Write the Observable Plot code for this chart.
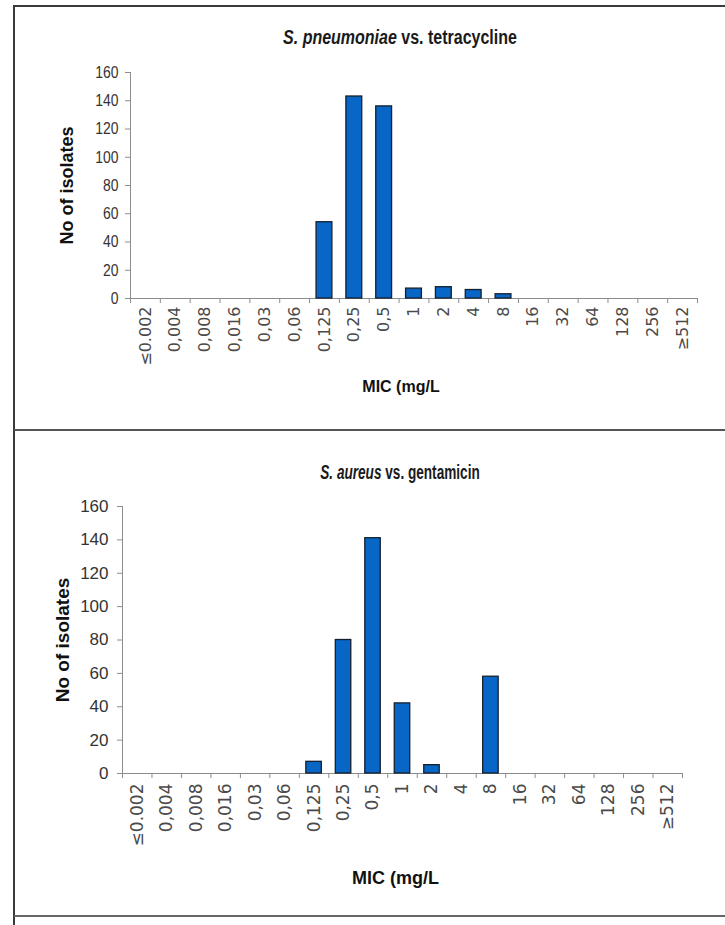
<!DOCTYPE html>
<html><head><meta charset="utf-8">
<script src="https://cdn.jsdelivr.net/npm/d3@7"></script>
<script src="https://cdn.jsdelivr.net/npm/@observablehq/plot@0.6"></script>
<style>
body{margin:0;background:#fff;}
#root{position:relative;width:725px;height:925px;overflow:hidden;background:#fff;font-family:"Liberation Sans",Arial,sans-serif;}
.hl{position:absolute;height:2px;background:#3a3a3a;}
.vl{position:absolute;width:2px;background:#3a3a3a;}
.title{position:absolute;left:0;width:800px;text-align:center;font-weight:bold;color:#1a1a1a;line-height:24px;white-space:nowrap;transform-origin:400px 50%;}
.chart{position:absolute;left:0;}
</style></head><body>
<div id="root">
  <div class="hl" style="left:14px;top:5px;width:711px;"></div>
  <div class="vl" style="left:13px;top:5px;height:920px;"></div>
  <div class="hl" style="left:14px;top:429px;width:711px;background:#555;"></div>
  <div class="hl" style="left:14px;top:915px;width:711px;background:#666;"></div>
  <div class="title" style="top:25px;font-size:20px;transform:scaleX(0.8);"><i>S. pneumoniae</i> vs. tetracycline</div>
  <div class="title" style="top:460px;font-size:20px;transform:scaleX(0.68);"><i>S. aureus</i> vs. gentamicin</div>
  <div class="chart" id="c1" style="top:0px;"></div>
  <div class="chart" id="c2" style="top:430px;"></div>
</div>
<script>
const micLabels = ["≤0.002","0,004","0,008","0,016","0,03","0,06","0,125","0,25","0,5","1","2","4","8","16","32","64","128","256","≥512"];
const pneumoniaeTetracycline = [0,0,0,0,0,0,54,143,136,7,8,6,3,0,0,0,0,0,0];
const aureusGentamicin = [0,0,0,0,0,0,7,80,141,42,5,0,58,0,0,0,0,0,0];
const yTicks = [0,20,40,60,80,100,120,140,160];
const yLabel = "No of isolates";
const xLabel = "MIC (mg/L";

function squeeze(svg, label, sx, sy) {
  svg.querySelectorAll(`g[aria-label="${label}"] text`).forEach(t => {
    const tr = t.getAttribute("transform") || "";
    t.setAttribute("transform", tr + ` scale(${sx},${sy})`);
  });
}

function makeChart(values, o) {
  const data = values.map((v, i) => ({i, mic: micLabels[i], v})).filter(d => d.v > 0);
  const n = micLabels.length;
  const svg = Plot.plot({
    width: 725,
    height: o.height,
    marginLeft: o.ml, marginRight: o.mr, marginTop: o.mt, marginBottom: o.mb,
    style: {fontFamily: "'Liberation Sans', Arial, sans-serif", background: "transparent", overflow: "visible"},
    x: {type: "linear", domain: [0, n], axis: null},
    y: {domain: [0, 160], axis: null},
    marks: [
      Plot.ruleX([0], {y1: 0, y2: 160, stroke: "#8c8c8c"}),
      Plot.ruleY([0], {stroke: "#8c8c8c"}),
      Plot.axisY({ticks: yTicks, tickSize: 5, tickPadding: o.yPad, stroke: "#8c8c8c", fill: "#333", fontSize: o.yFont, label: null}),
      Plot.axisX({ticks: d3.range(n + 1), tickSize: 5, stroke: "#8c8c8c", tickFormat: () => "", label: null}),
      Plot.axisX({ticks: d3.range(n).map(i => i + 0.5), tickSize: 0, tickPadding: o.xPad, tickRotate: -90, tickFormat: d => micLabels[Math.floor(d)], fill: "#4a4a4a", fontSize: o.xFont, fontFamily: "'DejaVu Sans',sans-serif", label: null, ariaLabel: "mic-labels"}),
      Plot.rectY(data, {x: "i", interval: 1, y: "v", fill: "#0766c6", stroke: "#15202e", strokeWidth: 1.3, insetLeft: o.inset, insetRight: o.inset}),
      Plot.text([yLabel], {frameAnchor: "left", textAnchor: "middle", lineAnchor: "middle", rotate: -90, dx: o.yLabDx, fontWeight: "bold", fontSize: o.yLabFont, fill: "#111", ariaLabel: "ylab"}),
      Plot.text([xLabel], {frameAnchor: "bottom", textAnchor: "middle", lineAnchor: "middle", dy: o.xLabDy, dx: o.xLabDx, fontWeight: "bold", fontSize: o.xLabFont, fill: "#111", ariaLabel: "xlab"})
    ]
  });
  squeeze(svg, "y-axis tick label", o.ySx, 1);
  squeeze(svg, "mic-labels", 1, o.xSy);
  squeeze(svg, "ylab", o.yLabSx, o.yLabSy);
  squeeze(svg, "xlab", o.xLabSx, 1);
  return svg;
}

document.getElementById("c1").appendChild(makeChart(pneumoniaeTetracycline, {
  height: 430, ml: 130, mr: 28, mt: 72, mb: 132, yPad: 7, yFont: 17, ySx: 0.82, xPad: 8, xFont: 16, xSy: 1,
  inset: 7, yLabDx: -63, yLabFont: 18, yLabSx: 1, yLabSy: 1, xLabDy: 88, xLabDx: -13, xLabFont: 16, xLabSx: 1
}));
document.getElementById("c2").appendChild(makeChart(aureusGentamicin, {
  height: 495, ml: 122, mr: 43, mt: 76, mb: 152, yPad: 9, yFont: 17, ySx: 1, xPad: 10, xFont: 17, xSy: 0.85,
  inset: 7, yLabDx: -60, yLabFont: 19, yLabSx: 1.22, yLabSy: 0.95, xLabDy: 105, xLabDx: -7, xLabFont: 18, xLabSx: 0.82
}));
</script>
</body></html>
